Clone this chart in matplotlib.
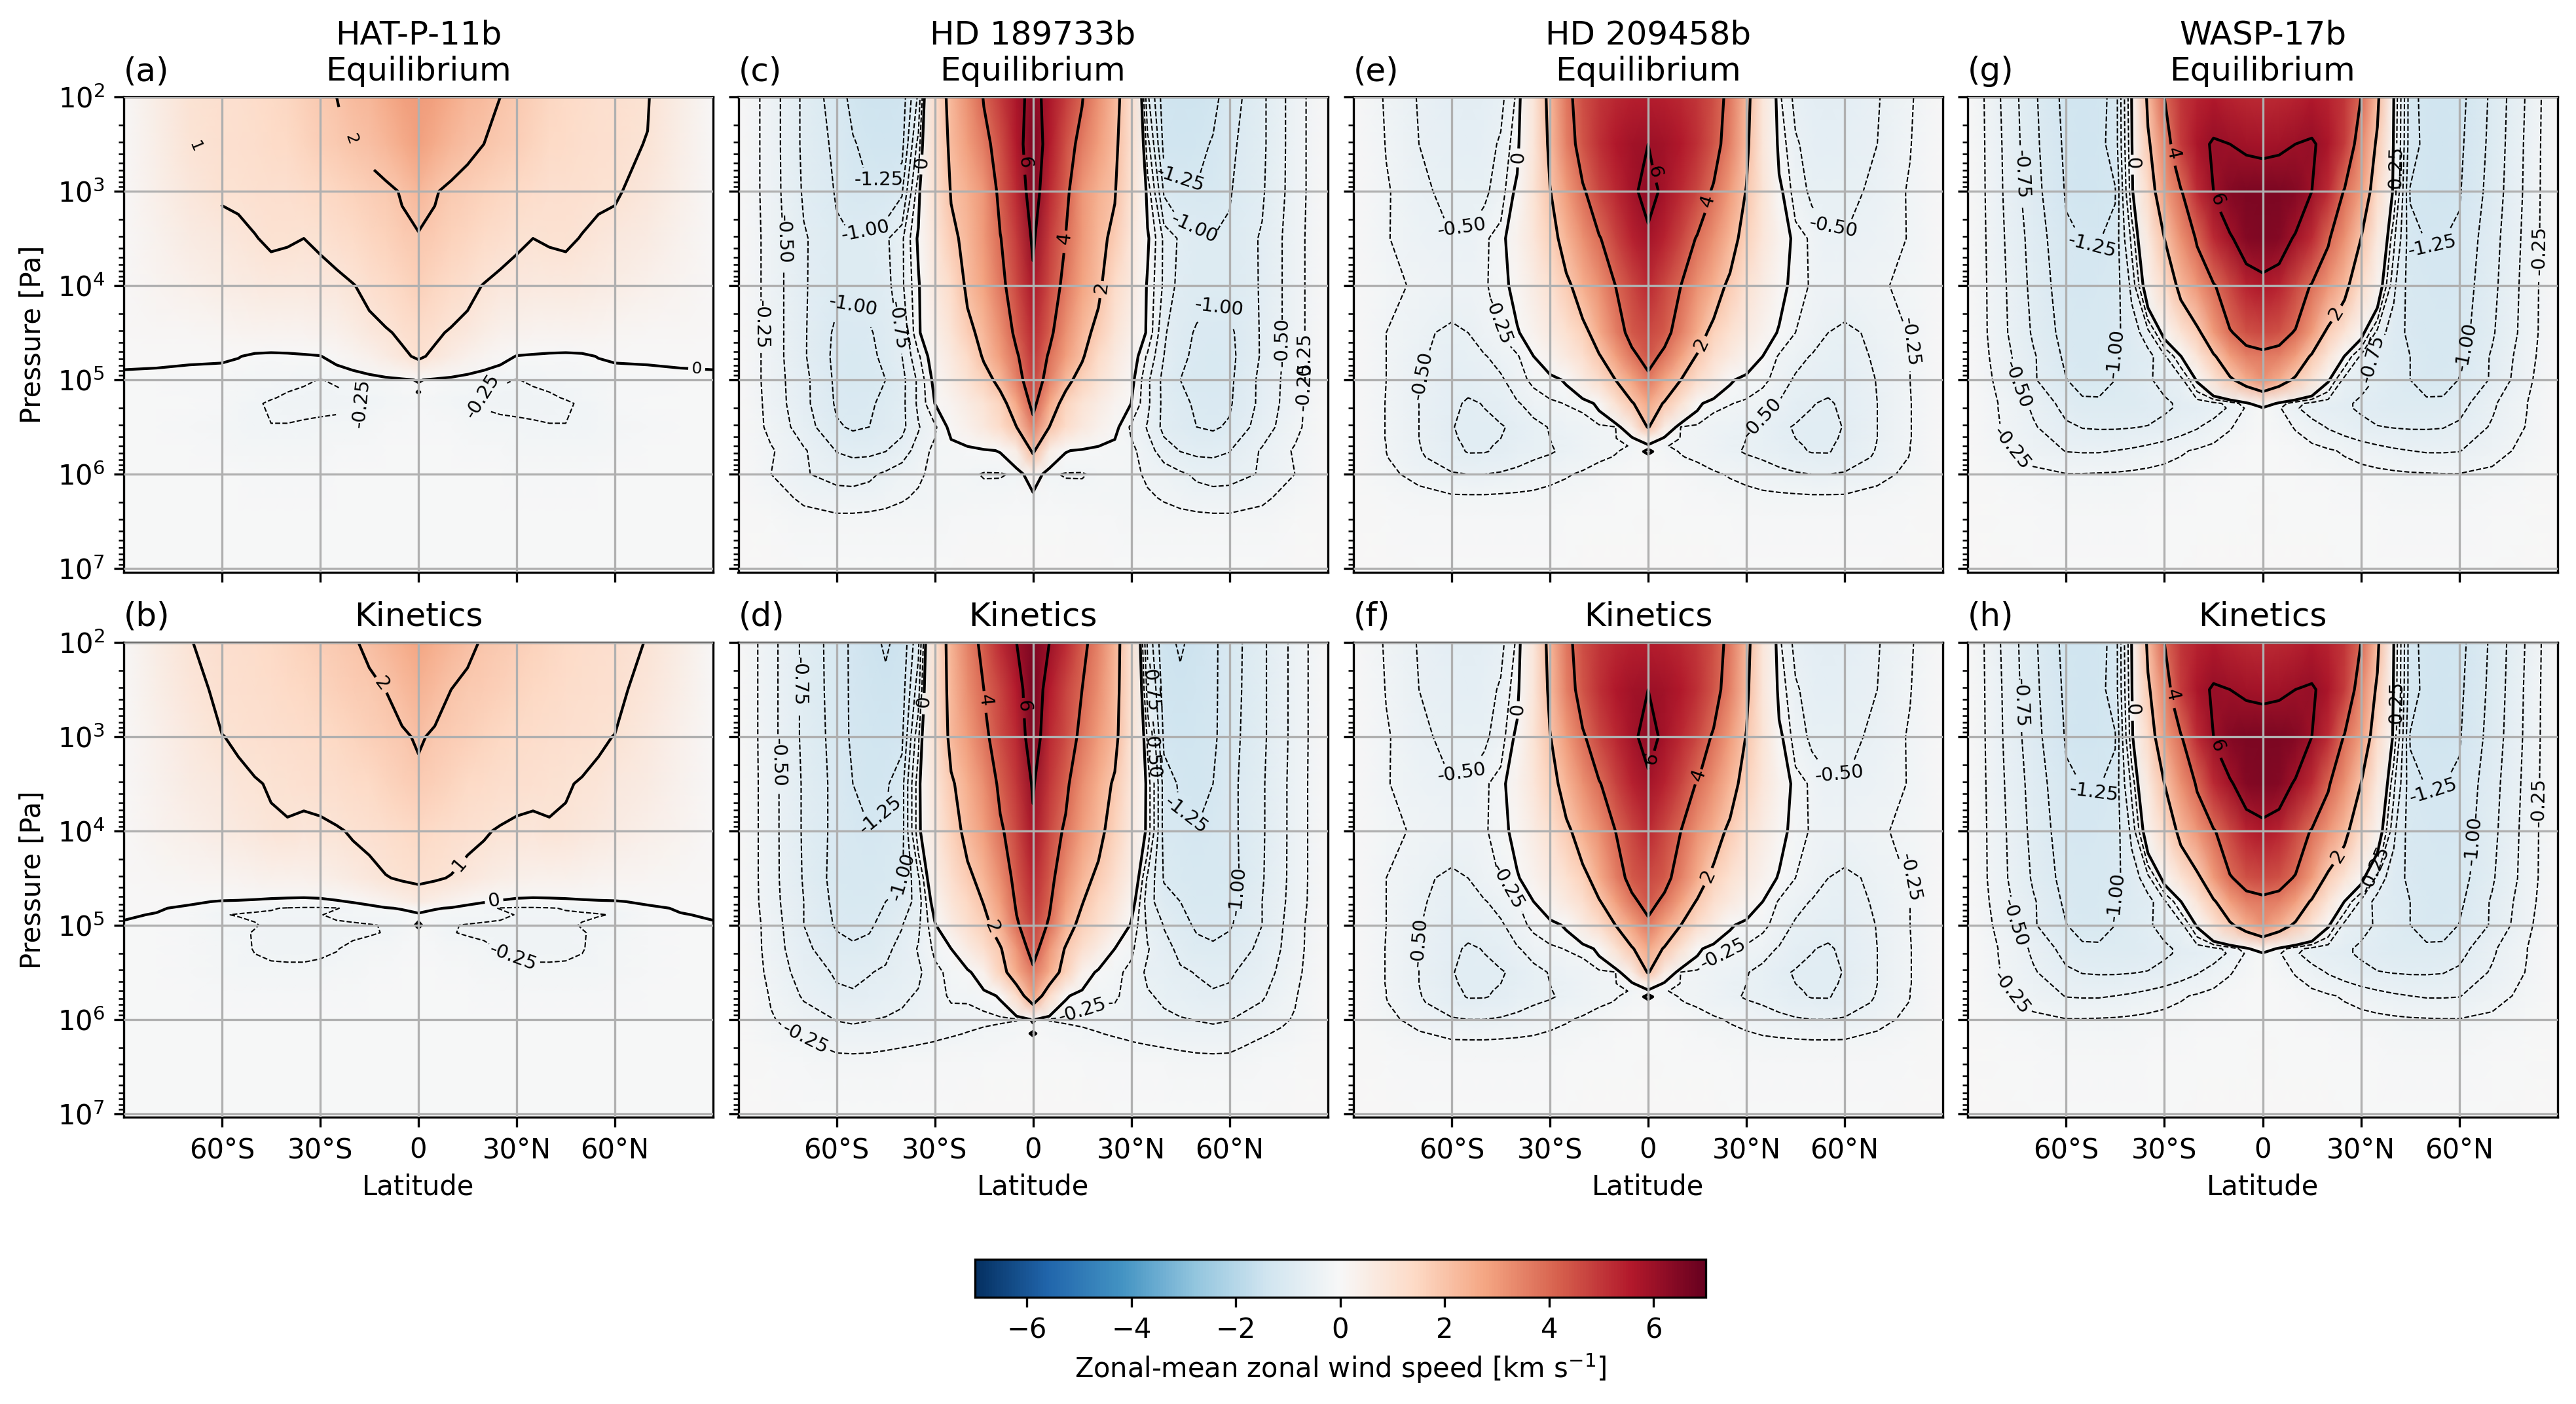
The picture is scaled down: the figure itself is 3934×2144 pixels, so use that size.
import numpy as np
import matplotlib
matplotlib.use('Agg')
from matplotlib import pyplot as plt
from matplotlib.cm import ScalarMappable
from matplotlib.colors import Normalize

# values, km/s, one hemisphere (the maps are symmetric about the equator)
lat_half = [0, 5, 10, 15, 20, 25, 30, 35, 40, 45, 50, 55, 60, 70, 80, 90]

logp_a = [2, 2.5, 3, 3.5, 4, 4.5, 4.75, 5, 5.07, 5.13, 5.19, 5.25, 5.5, 5.75, 6, 6.5, 7]
hat_eq = [
    [3.0, 2.85, 2.6, 2.35, 2.2, 2.0, 1.85, 1.65, 1.5, 1.4, 1.3, 1.2, 1.15, 1.03, .5, .01],
    [2.85, 2.6, 2.3, 2.12, 2.0, 1.85, 1.7, 1.55, 1.42, 1.33, 1.25, 1.18, 1.12, .98, .48, .01],
    [2.35, 2.05, 1.85, 1.72, 1.6, 1.48, 1.38, 1.28, 1.2, 1.15, 1.1, 1.07, 1.06, .8, .4, .01],
    [1.9, 1.8, 1.62, 1.48, 1.35, 1.22, 1.08, 1.0, 1.04, 1.07, .98, .87, .75, .6, .3, .01],
    [1.65, 1.5, 1.35, 1.18, .97, .8, .72, .68, .68, .68, .65, .6, .52, .38, .2, .01],
    [1.3, 1.12, .92, .72, .5, .38, .28, .25, .25, .25, .22, .18, .16, .1, .08, .01],
    [1.12, .85, .6, .35, .2, .1, -.01, -.03, -.05, -.06, -.04, .01, .03, .03, .03, .01],
    [.02, -.05, -.1, -.14, -.18, -.23, -.255, -.23, -.2, -.18, -.17, -.14, -.1, -.07, -.04, -.01],
    [-.03, -.09, -.14, -.18, -.21, -.25, -.27, -.25, -.23, -.2, -.18, -.15, -.1, -.07, -.04, -.01],
    [.01, -.1, -.16, -.2, -.24, -.27, -.285, -.27, -.25, -.22, -.2, -.16, -.1, -.06, -.03, -.01],
    [-.06, -.12, -.18, -.22, -.26, -.28, -.295, -.285, -.27, -.24, -.21, -.16, -.1, -.05, -.03, -.01],
    [-.1, -.15, -.19, -.23, -.27, -.29, -.3, -.3, -.29, -.27, -.23, -.17, -.1, -.05, -.02, -.01],
    [-.03, -.06, -.1, -.13, -.17, -.19, -.2, -.22, -.24, -.245, -.22, -.17, -.13, -.07, -.04, -.01],
    [-.01, -.02, -.04, -.06, -.08, -.1, -.12, -.13, -.14, -.14, -.13, -.11, -.09, -.05, -.03, -.01],
    [-.01, -.01, -.02, -.03, -.04, -.05, -.06, -.06, -.07, -.07, -.06, -.05, -.05, -.03, -.02, -.01],
    [-.01, -.01, -.01, -.01, -.02, -.02, -.02, -.02, -.02, -.02, -.02, -.02, -.02, -.01, -.01, -.01],
    [-.01, -.01, -.01, -.01, -.01, -.01, -.01, -.01, -.01, -.01, -.01, -.01, -.01, -.01, -.01, -.01],
]

logp_b = [2, 2.5, 3, 3.5, 4, 4.5, 4.75, 4.82, 4.89, 5, 5.08, 5.25, 5.5, 5.75, 6, 6.5, 7]
hat_kin = [
    [2.75, 2.55, 2.32, 2.1, 1.95, 1.85, 1.7, 1.6, 1.5, 1.4, 1.3, 1.25, 1.15, .98, .5, .01],
    [2.45, 2.2, 2.0, 1.85, 1.75, 1.65, 1.55, 1.45, 1.37, 1.3, 1.23, 1.17, 1.1, .85, .45, .01],
    [2.08, 1.9, 1.75, 1.65, 1.55, 1.45, 1.35, 1.28, 1.22, 1.15, 1.1, 1.05, .99, .7, .35, .01],
    [1.75, 1.65, 1.55, 1.42, 1.32, 1.22, 1.15, 1.1, 1.07, 1.03, .97, .88, .75, .55, .28, .01],
    [1.45, 1.35, 1.22, 1.12, 1.05, .95, .88, .87, .95, .92, .8, .68, .56, .42, .22, .01],
    [1.1, 1.06, .97, .8, .65, .5, .42, .38, .38, .36, .32, .26, .2, .12, .08, .01],
    [.65, .45, .3, .12, .03, -.04, -.09, -.1, -.09, -.07, -.04, -.02, -.01, .02, .03, .01],
    [.14, .03, -.03, -.12, -.2, -.26, -.27, -.27, -.26, -.24, -.22, -.2, -.14, -.02, .01, .01],
    [-.05, -.12, -.17, -.17, -.18, -.2, -.26, -.27, -.27, -.27, -.27, -.26, -.24, -.08, -.005, .01],
    [.03, -.12, -.24, -.26, -.28, -.3, -.3, -.3, -.3, -.28, -.24, -.2, -.16, -.05, -.01, -.01],
    [-.05, -.12, -.24, -.27, -.29, -.3, -.31, -.31, -.31, -.3, -.26, -.22, -.17, -.06, -.02, -.01],
    [-.04, -.07, -.11, -.16, -.2, -.26, -.29, -.3, -.3, -.29, -.26, -.2, -.15, -.08, -.03, -.01],
    [-.02, -.04, -.07, -.1, -.13, -.16, -.18, -.2, -.2, -.2, -.2, -.18, -.14, -.07, -.03, -.01],
    [-.01, -.02, -.04, -.05, -.07, -.08, -.09, -.1, -.1, -.1, -.1, -.09, -.08, -.05, -.02, -.01],
    [-.01, -.01, -.02, -.03, -.04, -.05, -.05, -.05, -.05, -.05, -.05, -.05, -.04, -.03, -.02, -.01],
    [-.01, -.01, -.01, -.01, -.02, -.02, -.02, -.02, -.02, -.02, -.02, -.02, -.02, -.01, -.01, -.01],
    [-.01, -.01, -.01, -.01, -.01, -.01, -.01, -.01, -.01, -.01, -.01, -.01, -.01, -.01, -.01, -.01],
]

logp_c = [2, 2.5, 3, 3.5, 4, 4.5, 4.75, 5, 5.25, 5.5, 5.75, 6, 6.25, 6.5, 7]
hd189_eq = [
    [6.3, 5.7, 4.9, 4.05, 3.2, 2.35, 1.2, -.7, -1.4, -1.45, -1.45, -1.32, -1.13, -.8, -.38, 0],
    [6.6, 5.6, 4.5, 3.65, 2.95, 2.2, 1.15, -.4, -1.33, -1.38, -1.35, -1.22, -1.06, -.8, -.38, 0],
    [6.5, 5.3, 4.25, 3.1, 2.5, 2.05, 1.05, -.1, -1.03, -1.17, -1.2, -1.17, -1.02, -.78, -.38, 0],
    [6.15, 4.9, 3.95, 3.05, 2.3, 1.75, .85, .05, -.55, -.8, -.92, -.98, -.95, -.72, -.36, 0],
    [5.7, 4.6, 3.7, 2.8, 2.15, 1.35, .7, -.05, -.55, -.85, -.93, -.97, -.97, -.72, -.36, 0],
    [5.3, 4.25, 3.2, 2.35, 1.7, .95, .4, -.05, -.72, -.9, -1.03, -1.07, -1.05, -.72, -.36, 0],
    [5.05, 3.85, 2.9, 2.1, 1.35, .7, .22, -.3, -.75, -.95, -1.05, -1.1, -1.07, -.72, -.36, 0],
    [4.8, 3.5, 2.3, 1.6, 1.0, .5, .1, -.45, -.83, -1.0, -1.1, -1.12, -1.05, -.68, -.36, 0],
    [4.35, 2.7, 1.55, .95, .55, .25, 0, -.45, -.82, -.95, -1.03, -1.07, -1.03, -.68, -.34, 0],
    [3.5, 2.0, 1.3, .75, .35, .1, -.3, -.52, -.82, -.92, -1.0, -1.03, -.97, -.62, -.32, 0],
    [2.2, .5, .02, -.05, -.1, -.12, -.18, -.4, -.62, -.76, -.8, -.8, -.76, -.47, -.22, 0],
    [.3, -.22, -.27, -.27, -.2, -.16, -.2, -.28, -.35, -.45, -.55, -.6, -.58, -.48, -.25, 0],
    [-.12, -.1, -.12, -.14, -.16, -.18, -.2, -.22, -.27, -.32, -.36, -.38, -.38, -.3, -.14, 0],
    [-.02, -.03, -.04, -.06, -.08, -.1, -.11, -.12, -.13, -.14, -.15, -.16, -.16, -.12, -.05, 0],
    [0, 0, 0, 0, 0, -.01, -.01, -.01, -.01, -.01, -.01, -.01, -.01, -.01, 0, 0],
]

logp_d = [2, 2.5, 3, 3.5, 4, 4.5, 4.75, 5, 5.25, 5.5, 5.75, 6, 6.08, 6.15, 6.22, 6.3, 6.5, 7]
hd189_kin = [
    [6.6, 6.0, 5.2, 4.3, 3.45, 2.45, 1.0, -.8, -1.45, -1.52, -1.45, -1.3, -1.13, -.8, -.42, 0],
    [6.7, 5.55, 4.75, 4.0, 3.25, 2.35, 1.05, -.6, -1.38, -1.45, -1.4, -1.3, -1.12, -.8, -.42, 0],
    [6.6, 5.3, 4.55, 3.75, 3.0, 2.25, 1.0, -.3, -1.3, -1.38, -1.35, -1.3, -1.1, -.8, -.42, 0],
    [6.1, 5.0, 4.2, 3.25, 2.55, 1.85, .85, -.1, -1.1, -1.29, -1.33, -1.25, -1.08, -.78, -.41, 0],
    [5.75, 4.7, 3.8, 2.95, 2.25, 1.6, .7, -.1, -1.1, -1.2, -1.22, -1.2, -1.08, -.78, -.41, 0],
    [5.35, 4.35, 3.25, 2.4, 1.75, 1.15, .45, -.55, -1.02, -1.13, -1.17, -1.18, -1.1, -.77, -.41, 0],
    [5.1, 4.15, 2.9, 2.05, 1.45, .9, .2, -.65, -.9, -1.0, -1.1, -1.14, -1.07, -.75, -.4, 0],
    [4.8, 3.85, 2.5, 1.65, 1.15, .6, -.05, -.55, -.76, -.93, -1.03, -1.08, -1.03, -.75, -.36, 0],
    [4.5, 3.1, 1.9, 1.2, .55, 0, -.2, -.48, -.68, -.8, -.93, -.95, -.88, -.7, -.35, 0],
    [3.7, 2.6, 1.6, .35, -.1, -.18, -.32, -.55, -.65, -.72, -.76, -.8, -.78, -.62, -.32, 0],
    [2.85, 1.3, .05, -.15, -.22, -.22, -.33, -.47, -.55, -.62, -.68, -.72, -.7, -.53, -.27, 0],
    [.05, -.27, -.3, -.32, -.33, -.34, -.36, -.4, -.44, -.48, -.51, -.53, -.51, -.37, -.23, 0],
    [-.06, -.16, -.21, -.25, -.28, -.3, -.33, -.36, -.4, -.44, -.46, -.48, -.46, -.33, -.2, 0],
    [.03, -.13, -.17, -.2, -.24, -.28, -.31, -.34, -.38, -.4, -.42, -.42, -.41, -.28, -.16, 0],
    [-.06, -.1, -.14, -.17, -.19, -.22, -.26, -.28, -.31, -.34, -.37, -.37, -.35, -.23, -.12, 0],
    [-.05, -.08, -.1, -.12, -.14, -.16, -.2, -.23, -.25, -.27, -.29, -.3, -.29, -.18, -.09, 0],
    [-.02, -.03, -.04, -.05, -.06, -.07, -.08, -.09, -.1, -.11, -.12, -.12, -.12, -.09, -.05, 0],
    [0, 0, 0, 0, 0, -.01, -.01, -.01, -.01, -.01, -.01, -.01, -.01, -.01, 0, 0],
]

logp_e = [2, 2.5, 3, 3.5, 4, 4.5, 4.75, 5, 5.25, 5.5, 5.62, 5.7, 5.76, 5.82, 6, 6.25, 6.5, 7]
hd209 = [
    [5.5, 5.45, 5.3, 5.0, 4.5, 3.7, 2.35, .85, -.2, -.58, -.68, -.72, -.7, -.52, -.28, 0],
    [6.0, 5.9, 5.6, 5.1, 4.4, 3.5, 2.2, .85, -.1, -.45, -.65, -.68, -.65, -.5, -.26, 0],
    [6.25, 5.85, 5.3, 4.7, 3.85, 3.0, 1.95, .95, .1, -.38, -.55, -.6, -.58, -.44, -.22, 0],
    [5.8, 5.4, 4.75, 3.9, 3.2, 2.4, 1.6, .85, .3, -.12, -.3, -.44, -.47, -.4, -.23, 0],
    [5.3, 4.7, 4.0, 3.2, 2.55, 1.75, 1.05, .6, .15, -.14, -.28, -.33, -.34, -.28, -.2, 0],
    [4.7, 4.3, 3.55, 2.6, 1.6, 1.05, .65, .3, -.05, -.25, -.35, -.5, -.58, -.42, -.25, 0],
    [4.4, 3.75, 2.85, 1.9, 1.2, .7, .3, 0, -.28, -.4, -.52, -.58, -.62, -.46, -.25, 0],
    [3.7, 2.8, 2.0, 1.25, .6, .05, -.12, -.2, -.33, -.55, -.62, -.68, -.66, -.49, -.25, 0],
    [2.7, 1.9, 1.0, .1, -.2, -.24, -.29, -.38, -.53, -.66, -.74, -.78, -.7, -.5, -.26, 0],
    [2.1, .6, -.26, -.3, -.35, -.42, -.48, -.6, -.7, -.77, -.8, -.8, -.74, -.5, -.26, 0],
    [.5, -.08, -.26, -.3, -.36, -.44, -.5, -.6, -.68, -.75, -.78, -.78, -.73, -.5, -.26, 0],
    [-.1, -.24, -.28, -.31, -.36, -.45, -.51, -.59, -.65, -.73, -.77, -.77, -.71, -.49, -.25, 0],
    [.08, -.2, -.26, -.3, -.36, -.46, -.52, -.58, -.63, -.72, -.76, -.76, -.7, -.48, -.25, 0],
    [-.08, -.16, -.24, -.28, -.34, -.42, -.48, -.52, -.58, -.66, -.71, -.72, -.66, -.46, -.24, 0],
    [-.02, -.05, -.1, -.16, -.22, -.27, -.32, -.38, -.43, -.47, -.5, -.5, -.47, -.33, -.19, 0],
    [-.01, -.02, -.05, -.08, -.1, -.13, -.15, -.17, -.18, -.19, -.2, -.2, -.2, -.14, -.08, 0],
    [0, -.01, -.02, -.03, -.04, -.05, -.06, -.07, -.08, -.09, -.1, -.1, -.1, -.07, -.04, 0],
    [0, 0, 0, 0, 0, -.01, -.01, -.01, -.01, -.01, -.01, -.01, -.01, -.01, 0, 0],
]

logp_g = [2, 2.5, 3, 3.5, 4, 4.5, 4.75, 5, 5.25, 5.3, 5.5, 5.75, 6, 6.25, 6.5, 7]
wasp17 = [
    [5.2, 5.25, 5.4, 5.6, 5.4, 5.0, 4.0, 2.2, 0, -1.15, -1.35, -1.42, -1.33, -.95, -.5, 0],
    [5.85, 5.9, 6.0, 6.1, 5.7, 4.9, 3.4, 1.8, -.05, -1.15, -1.32, -1.4, -1.3, -.93, -.48, 0],
    [6.6, 6.6, 6.45, 6.0, 5.2, 3.9, 2.9, 1.3, -.1, -1.27, -1.35, -1.38, -1.27, -.9, -.47, 0],
    [6.55, 6.4, 5.9, 5.2, 4.1, 3.2, 2.0, .7, -.45, -1.15, -1.26, -1.25, -1.2, -.85, -.45, 0],
    [5.65, 5.4, 4.7, 3.9, 3.1, 2.25, 1.3, .3, -.7, -1.12, -1.2, -1.22, -1.15, -.82, -.43, 0],
    [4.6, 4.45, 3.9, 3.0, 1.7, .95, .15, -.6, -.9, -1.05, -1.15, -1.19, -1.1, -.78, -.42, 0],
    [3.7, 3.5, 2.9, 1.85, .9, -.02, -.55, -.85, -.95, -1.0, -1.1, -1.15, -1.05, -.72, -.38, 0],
    [3.2, 2.6, 1.8, .95, .05, -.6, -.7, -.77, -.88, -1.0, -1.1, -1.12, -.99, -.72, -.33, 0],
    [.4, -.1, -.42, -.58, -.65, -.72, -.78, -.85, -.93, -.95, -.95, -.93, -.85, -.54, -.27, 0],
    [-.05, -.22, -.47, -.6, -.66, -.72, -.78, -.84, -.9, -.92, -.92, -.9, -.82, -.53, -.27, 0],
    [-.05, -.15, -.27, -.4, -.52, -.6, -.68, -.74, -.76, -.77, -.77, -.76, -.7, -.47, -.25, 0],
    [-.02, -.05, -.1, -.16, -.22, -.28, -.34, -.4, -.46, -.5, -.52, -.52, -.51, -.36, -.18, 0],
    [-.01, -.02, -.04, -.07, -.1, -.13, -.16, -.18, -.2, -.22, -.23, -.24, -.24, -.18, -.09, 0],
    [0, -.01, -.02, -.04, -.05, -.07, -.09, -.1, -.11, -.12, -.13, -.13, -.13, -.09, -.05, 0],
    [0, -.01, -.02, -.02, -.03, -.04, -.05, -.05, -.06, -.06, -.07, -.07, -.07, -.05, -.03, 0],
    [0, 0, 0, 0, 0, -.01, -.01, -.01, -.01, -.01, -.01, -.01, -.01, -.01, 0, 0],
]

planets = ['HAT-P-11b', 'HD 189733b', 'HD 209458b', 'WASP-17b']
letters = [['a', 'b'], ['c', 'd'], ['e', 'f'], ['g', 'h']]
lat_ticks = [-60, -30, 0, 30, 60]
lat_ticklabels = ['60°S', '30°S', '0', '30°N', '60°N']
cbar_ticks = [-6, -4, -2, 0, 2, 4, 6]

# (lat, log10 p) where the inline contour labels sit
neg_labels = {
    'a': [(-8.8, 5.07), (16.7, 5.02)],
    'b': [(29.4, 5.3)],
    'c': [(-47, 2.89), (44.8, 2.89), (-51, 3.43), (49, 3.41), (-55, 4.19), (57, 4.2), (-75, 3.51),
          (-42, 4.43), (-84.6, 4.41), (73, 4.6), (79.4, 4.76), (84, 4.87)],
    'd': [(-71.5, 2.41), (-77, 3.27), (-47, 3.81), (47.2, 3.81), (-43.7, 4.48), (64.4, 4.65),
          (-70.9, 6.3), (13.6, 5.79), (35.6, 2.48), (35.9, 3.19)],
    'e': [(-57.3, 3.33), (57, 3.33), (-46.3, 4.38), (81, 4.6), (-69.8, 4.95), (35.1, 5.42)],
    'f': [(-56, 3.52), (57.6, 3.52), (-42.6, 4.58), (80.5, 4.49), (-70, 5.18), (25.2, 5.48)],
    'g': [(-53, 3.63), (52.8, 3.63), (-73.4, 2.82), (-76, 5.08), (-78, 5.75), (-44.5, 4.72),
          (63.7, 4.66), (31.5, 4.78), (84.4, 3.63), (40, 2.78)],
    'h': [(-75.8, 2.64), (-52.3, 3.63), (53.3, 3.63), (-76, 4.98), (-77, 5.72), (-44.9, 4.7),
          (62.8, 4.1), (31.4, 4.35), (39.4, 2.67), (83.7, 3.7)],
}
pos_labels = {
    'a': [(-68.7, 2.53), (-21.4, 2.46), (85, 4.88)],
    'b': [(-11.7, 2.45), (12.4, 4.35), (23, 4.72)],
    'c': [(-33.8, 2.7), (-2, 2.7), (9.7, 3.5), (20.7, 4.02)],
    'd': [(-33.5, 2.63), (-14, 2.61), (-3.3, 2.68), (-12.7, 5.03)],
    'e': [(-39.5, 2.64), (4.5, 2.78), (18, 3.1), (16.2, 4.62)],
    'f': [(-40, 2.71), (3.7, 3.26), (19, 3.45), (19, 4.49)],
    'g': [(-37.8, 2.7), (-26.3, 2.59), (-13.3, 3.09), (21.5, 4.27)],
    'h': [(-38.9, 2.71), (-26.4, 2.55), (-13.5, 3.1), (21.4, 4.23)],
}

tables = {'a': (logp_a, hat_eq), 'b': (logp_b, hat_kin), 'c': (logp_c, hd189_eq), 'd': (logp_d, hd189_kin),
          'e': (logp_e, hd209), 'f': (logp_e, hd209), 'g': (logp_g, wasp17), 'h': (logp_g, wasp17)}

W, H = 3934, 2144
col_x = [(189, 1089), (1127.5, 2027.5), (2067, 2967), (3005, 3906)]
row_y = [(148, 873.5), (981, 1706)]
levels_neg = [-1.5, -1.25, -1.0, -0.75, -0.5, -0.25]
label_size = 7


def both_sides(rows):
    half = np.array(rows, dtype=float)
    return np.hstack([half[:, :0:-1], half])


lats = np.r_[-np.array(lat_half[:0:-1], dtype=float), np.array(lat_half, dtype=float)]

plt.rcParams['font.size'] = 10
fig = plt.figure(figsize=(W / 300, H / 300), dpi=300)

for c, planet in enumerate(planets):
    for r in range(2):
        x0, x1 = col_x[c]
        y0, y1 = row_y[r]
        ax = fig.add_axes([x0 / W, 1 - y1 / H, (x1 - x0) / W, (y1 - y0) / H])
        key = letters[c][r]
        logp, rows = tables[key]
        u = both_sides(rows)
        p = 10.0 ** np.array(logp)
        X, Y = np.meshgrid(lats, p)
        ax.pcolormesh(X, Y, u, cmap='RdBu_r', vmin=-7, vmax=7, shading='gouraud', rasterized=True)

        levels_pos = [0, 1, 2] if c == 0 else [0, 2, 4, 6]
        cn = ax.contour(X, Y, u, levels=levels_neg, colors='k', linewidths=0.5)
        cp = ax.contour(X, Y, u, levels=levels_pos, colors='k', linewidths=1.0)

        ax.set_yscale('log')
        ax.set_ylim(1.09e7, 100)
        ax.set_xlim(-90, 90)
        ax.set_xticks(lat_ticks)
        ax.grid(True)
        ax.set_axisbelow(False)

        neg_xy = [(la, 10.0 ** lp) for la, lp in neg_labels[key]]
        pos_xy = [(la, 10.0 ** lp) for la, lp in pos_labels[key]]
        ax.clabel(cn, manual=neg_xy, fmt='%.2f', fontsize=label_size, inline=True)
        if key == 'a':
            # the two left labels of this panel cut a long piece out of their lines
            ax.clabel(cp, manual=pos_xy[:1], fmt='%d', fontsize=label_size - 1, inline=True, inline_spacing=90)
            ax.clabel(cp, manual=pos_xy[1:2], fmt='%d', fontsize=label_size - 1, inline=True, inline_spacing=50)
            ax.clabel(cp, manual=pos_xy[2:], fmt='%d', fontsize=label_size - 1, inline=True)
        else:
            ax.clabel(cp, manual=pos_xy, fmt='%d', fontsize=label_size, inline=True)

        if r == 1:
            ax.set_xticklabels(lat_ticklabels)
            ax.set_xlabel('Latitude', labelpad=3.5)
        else:
            ax.set_xticklabels([])
        if c == 0:
            ax.set_ylabel('Pressure [Pa]')
        else:
            ax.set_yticklabels([])

        ax.set_title(f'({key})', loc='left', fontsize=12)
        ax.set_title(f'{planet}\nEquilibrium' if r == 0 else 'Kinetics', fontsize=12)

cax = fig.add_axes([1488.6 / W, 1 - 1981 / H, (2605 - 1488.6) / W, (1981 - 1923) / H])
cb = fig.colorbar(ScalarMappable(Normalize(-7, 7), 'RdBu_r'), cax=cax, orientation='horizontal')
cb.set_ticks(cbar_ticks)
cb.set_label(r'Zonal-mean zonal wind speed [km s$^{-1}$]', labelpad=3)

fig.savefig('out.png', dpi=300)
